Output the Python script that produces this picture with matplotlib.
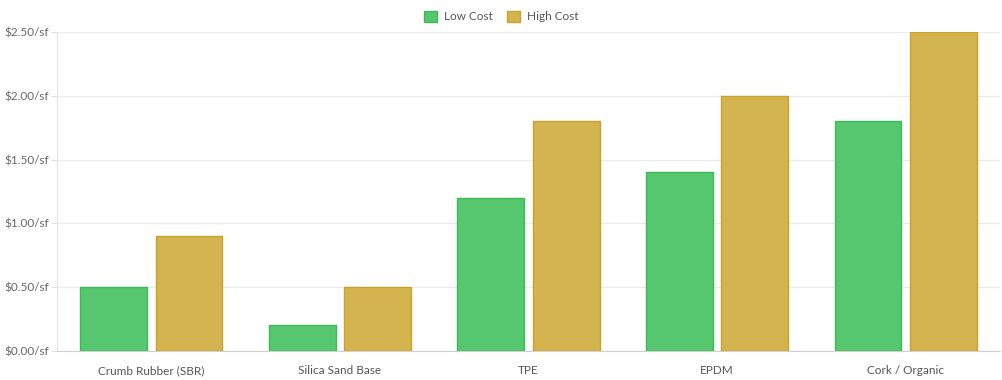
import matplotlib
matplotlib.use("Agg")
import matplotlib.pyplot as plt
import numpy as np

# data
categories = ["Crumb Rubber (SBR)", "Silica Sand Base", "TPE", "EPDM", "Cork / Organic"]
low_cost = [0.50, 0.20, 1.20, 1.40, 1.80]
high_cost = [0.90, 0.50, 1.80, 2.00, 2.50]
y_ticks = [0.0, 0.5, 1.0, 1.5, 2.0, 2.5]

plt.rcParams['font.family'] = ['Lato', 'DejaVu Sans']

fig = plt.figure(figsize=(10.02, 3.8), dpi=100)
ax = fig.add_axes([57 / 1002, 1 - 351 / 380, 943 / 1002, 319 / 380])

x = np.arange(len(categories))
w = 0.355
ax.bar(x - 0.2, low_cost, w, color="#57C76F", edgecolor="#3DB955", linewidth=1, label="Low Cost", zorder=3)
ax.bar(x + 0.2, high_cost, w, color="#D4B44F", edgecolor="#C9A22A", linewidth=1, label="High Cost", zorder=3)

ax.set_xlim(-0.5, len(categories) - 0.5)
ax.set_ylim(0, 2.5)
ax.set_yticks(y_ticks)
ax.set_yticklabels([f"${v:.2f}/sf" for v in y_ticks])
ax.set_xticks(x)
ax.set_xticklabels(categories)
ax.tick_params(axis="y", length=4, color="#E0E0E0", labelsize=8.5, labelcolor="#666666", pad=2)
ax.tick_params(axis="x", length=0, labelsize=8.5, labelcolor="#555555", pad=10)
ax.grid(axis="y", color="#EBEBEB", linewidth=1, zorder=0)

for side in ["top", "right"]:
    ax.spines[side].set_visible(False)
ax.spines["left"].set_color("#E3E3E3")
ax.spines["bottom"].set_color("#D0D0D0")

fig.legend(loc="upper center", bbox_to_anchor=(0.5, 1.0), ncol=2, frameon=False,
           fontsize=8.5, handlelength=1.1, handleheight=1.1, columnspacing=1.2,
           handletextpad=0.6, labelcolor="#555555")

fig.savefig("out.png", dpi=100)
